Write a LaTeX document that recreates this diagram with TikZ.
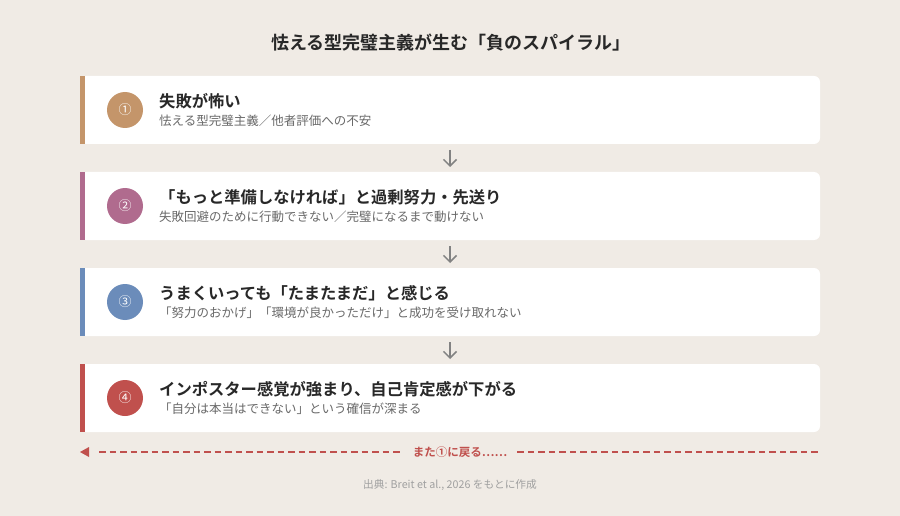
\documentclass[tikz,border=0pt]{standalone}
\usepackage{fontspec}
\setmainfont{Noto Sans CJK JP}
\newfontfamily\jpb{Noto Sans CJK JP Bold}
\usetikzlibrary{arrows.meta}
\definecolor{bg}{RGB}{240,235,229}
\definecolor{ctan}{RGB}{196,149,106}
\definecolor{cmauve}{RGB}{176,107,142}
\definecolor{cblue}{RGB}{107,140,186}
\definecolor{cred}{RGB}{192,80,77}
\definecolor{dark}{RGB}{40,40,40}
\definecolor{sub}{RGB}{105,105,105}
\definecolor{arr}{RGB}{130,130,130}
\definecolor{foot}{RGB}{160,160,160}
\tikzset{
  card/.style={fill=white,rounded corners=6pt},
  numc/.style={circle,fill=#1,minimum size=36pt,inner sep=0pt,text=white,font=\fontsize{13}{13}\selectfont},
  ttl/.style={anchor=west,inner sep=0pt,text=dark,font=\jpb\fontsize{16.3}{16.3}\selectfont},
  subt/.style={anchor=west,inner sep=0pt,text=sub,font=\fontsize{12.5}{12.5}\selectfont},
  flow/.style={draw=arr,line width=1.5pt,-{Straight Barb[length=6.5pt,width=13pt,line width=1.5pt]}},
}
\begin{document}
\begin{tikzpicture}[x=1pt,y=-1pt]
\fill[bg] (0,0) rectangle (900,516);
\useasboundingbox (0,0) rectangle (900,516);
\node[inner sep=0pt,text=dark,font=\jpb\fontsize{18}{18}\selectfont] (title) at (451,43) {怯える型完璧主義が生む「負のスパイラル」};
% cards
\foreach \i/\y/\c in {1/76/ctan,2/172/cmauve,3/268/cblue,4/364/cred}{
  \fill[card] (80,\y) rectangle (820,\y+68);
  \fill[white] (80,\y) rectangle (100,\y+68);
  \fill[\c] (80,\y) rectangle (84.5,\y+68);
  \coordinate (top\i) at (450,\y);
  \coordinate (bot\i) at (450,\y+68);
}
\node[numc=ctan] (n1) at (125,110) {①};
\node[numc=cmauve] (n2) at (125,206) {②};
\node[numc=cblue] (n3) at (125,302) {③};
\node[numc=cred] (n4) at (125,398) {④};
\node[ttl] (t1) at (159,101) {失敗が怖い};
\node[subt] (s1) at (159,121) {怯える型完璧主義／他者評価への不安};
\node[ttl] (t2) at (159,197) {「もっと準備しなければ」と過剰努力・先送り};
\node[subt] (s2) at (159,217) {失敗回避のために行動できない／完璧になるまで動けない};
\node[ttl] (t3) at (159,293) {うまくいっても「たまたまだ」と感じる};
\node[subt] (s3) at (159,313) {「努力のおかげ」「環境が良かっただけ」と成功を受け取れない};
\node[ttl] (t4) at (159,389) {インポスター感覚が強まり、自己肯定感が下がる};
\node[subt] (s4) at (159,409) {「自分は本当はできない」という確信が深まる};
% arrows
\draw[flow] ([yshift=-6pt]bot1) -- ([yshift=5pt]top2);
\draw[flow] ([yshift=-6pt]bot2) -- ([yshift=5pt]top3);
\draw[flow] ([yshift=-6pt]bot3) -- ([yshift=5pt]top4);
% return
\node[inner sep=0pt,text=cred,font=\jpb\fontsize{11.5}{11.5}\selectfont] (ret) at (460,452) {また①に戻る……};
\coordinate (lend) at (80,452);
\coordinate (rend) at (820,452);
\draw[cred,line width=1.4pt,dash pattern=on 6.5pt off 4pt] ([xshift=19pt]lend) -- ([xshift=-10pt]ret.west);
\fill[cred] (lend) -- ++(9,-5) -- ++(0,10) -- cycle;
\draw[cred,line width=1.4pt,dash pattern=on 6.5pt off 4pt] ([xshift=10pt]ret.east) -- (rend);
\node[inner sep=0pt,text=foot,font=\fontsize{10.7}{10.7}\selectfont] (src) at (450,485) {出典: Breit et al., 2026 をもとに作成};
\end{tikzpicture}
\end{document}
